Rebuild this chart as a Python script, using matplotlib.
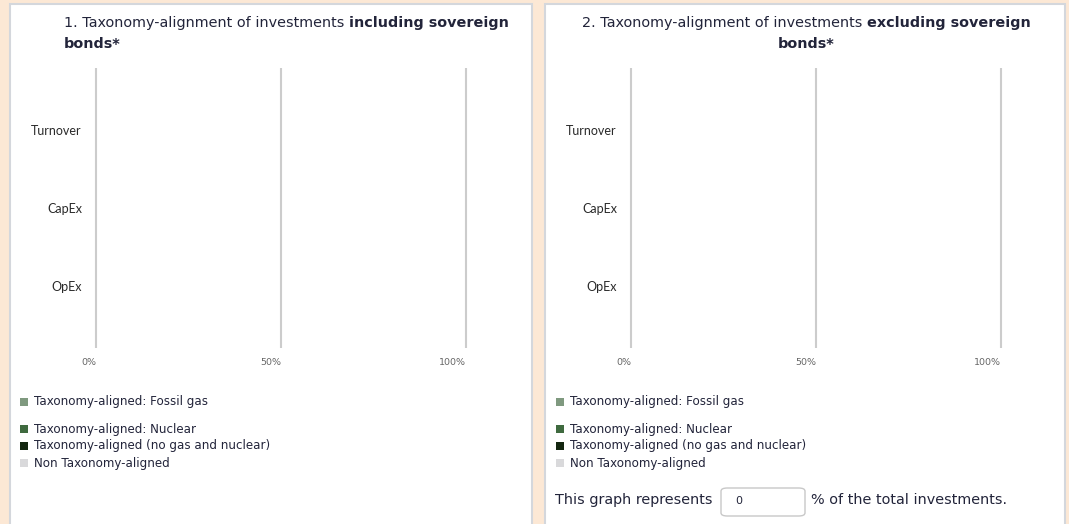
import numpy as np
import matplotlib
matplotlib.use("Agg")
from matplotlib import pyplot as plt
from matplotlib.patches import Rectangle, FancyBboxPatch

W, H = 1069, 524

categories = ["Turnover", "CapEx", "OpEx"]
series = [
    "Taxonomy-aligned: Fossil gas",
    "Taxonomy-aligned: Nuclear",
    "Taxonomy-aligned (no gas and nuclear)",
    "Non Taxonomy-aligned",
]
colors = ["#7f997f", "#3f6a3f", "#13260f", "#d9d9db"]

# values in % per series, rows follow categories
incl_values = {
    "Taxonomy-aligned: Fossil gas": [0, 0, 0],
    "Taxonomy-aligned: Nuclear": [0, 0, 0],
    "Taxonomy-aligned (no gas and nuclear)": [0, 0, 0],
    "Non Taxonomy-aligned": [0, 0, 0],
}
excl_values = {
    "Taxonomy-aligned: Fossil gas": [0, 0, 0],
    "Taxonomy-aligned: Nuclear": [0, 0, 0],
    "Taxonomy-aligned (no gas and nuclear)": [0, 0, 0],
    "Non Taxonomy-aligned": [0, 0, 0],
}
xticks = [0, 50, 100]
xticklabels = ["0%", "50%", "100%"]
share_of_total = 0

text_col = "#22243a"
bg = "#fce8d5"
title_fs = 10.35
body_fs = 10.35
legend_fs = 8.6


def px(x, y):
    return x / W, 1 - y / H


def draw_panel(fig, x0, x1):
    fig.patches.append(Rectangle(px(x0, H + 5), (x1 - x0) / W, (H + 5 - 4) / H,
                                 transform=fig.transFigure, facecolor="white",
                                 edgecolor="#d4d7dc", linewidth=1.5, zorder=0))


def draw_chart(fig, left, values):
    unit = 370 / 100
    ax = fig.add_axes([(left - unit) / W, 1 - 348 / H, (370 + 2 * unit) / W, 280 / H])
    ax.set_zorder(3)
    ax.set_xlim(-1, 101)
    y = np.arange(len(categories))
    start = np.zeros(len(categories))
    for name, c in zip(series, colors):
        v = np.array(values[name], dtype=float)
        ax.barh(y, v, left=start, color=c, height=0.55)
        start += v
    ax.set_ylim(2.8, -0.8)
    ax.set_yticks(y)
    ax.set_yticklabels(categories, fontsize=9, color="#2a2a2a", family="Lato")
    ax.set_xticks(xticks)
    ax.set_xticklabels(xticklabels, fontsize=6.8, color="#666666", ha="right")
    ax.tick_params(length=0)
    ax.tick_params(axis="y", pad=7.5)
    ax.tick_params(axis="x", pad=7)
    ax.grid(axis="x", color="#cccccc", linewidth=1.5)
    ax.set_axisbelow(True)
    for s in ax.spines.values():
        s.set_visible(False)
    ax.patch.set_alpha(0)
    return ax


def draw_legend(fig, x):
    ys = [402, 429, 446, 463]
    for yy, name, c in zip(ys, series, colors):
        fig.patches.append(Rectangle(px(x, yy + 4), 8 / W, 8 / H, transform=fig.transFigure,
                                     facecolor=c, edgecolor="none", zorder=2))
        fx, fy = px(x + 14, yy)
        fig.text(fx, fy, name, fontsize=legend_fs, color=text_col, va="center", ha="left")


fig = plt.figure(figsize=(W / 100, H / 100), dpi=100)
fig.patch.set_facecolor(bg)

draw_panel(fig, 10, 532)
draw_panel(fig, 545, 1065)

draw_chart(fig, 96, incl_values)
draw_chart(fig, 631, excl_values)

# titles
fx, fy = px(64, 23)
t = fig.text(fx, fy, "1. Taxonomy-alignment of investments ", fontsize=title_fs, color=text_col,
             va="center", ha="left")
fig.canvas.draw()
bb = t.get_window_extent()
fig.text(bb.x1 / W, fy, "including sovereign", fontsize=title_fs, color=text_col,
         weight="bold", va="center", ha="left")
fx, fy = px(64, 44)
fig.text(fx, fy, "bonds*", fontsize=title_fs, color=text_col, weight="bold", va="center", ha="left")

line1a = "2. Taxonomy-alignment of investments "
line1b = "excluding sovereign"
tmp1 = fig.text(0, 0, line1a, fontsize=title_fs)
tmp2 = fig.text(0, 0, line1b, fontsize=title_fs, weight="bold")
fig.canvas.draw()
w1 = tmp1.get_window_extent().width
w2 = tmp2.get_window_extent().width
tmp1.remove()
tmp2.remove()
cx = 806
start = cx - (w1 + w2) / 2
fy = px(0, 23)[1]
fig.text(start / W, fy, line1a, fontsize=title_fs, color=text_col, va="center", ha="left")
fig.text((start + w1) / W, fy, line1b, fontsize=title_fs, color=text_col, weight="bold",
         va="center", ha="left")
fig.text(cx / W, px(0, 44)[1], "bonds*", fontsize=title_fs, color=text_col, weight="bold",
         va="center", ha="center")

draw_legend(fig, 20)
draw_legend(fig, 556)

# share of total investments
fx, fy = px(555, 500)
fig.text(fx, fy, "This graph represents", fontsize=body_fs, color=text_col, va="center", ha="left")
box = FancyBboxPatch(px(721, 516), 84 / W, 28 / H, transform=fig.transFigure,
                     boxstyle="round,pad=0,rounding_size=0.006", facecolor="white",
                     edgecolor="#c8c8c8", linewidth=1, zorder=2)
fig.patches.append(box)
fx, fy = px(735, 501)
fig.text(fx, fy, str(share_of_total), fontsize=8, color=text_col, va="center", ha="left")
fx, fy = px(811, 500)
fig.text(fx, fy, "% of the total investments.", fontsize=body_fs, color=text_col,
         va="center", ha="left")

fig.savefig("out.png", dpi=100, facecolor=bg)
